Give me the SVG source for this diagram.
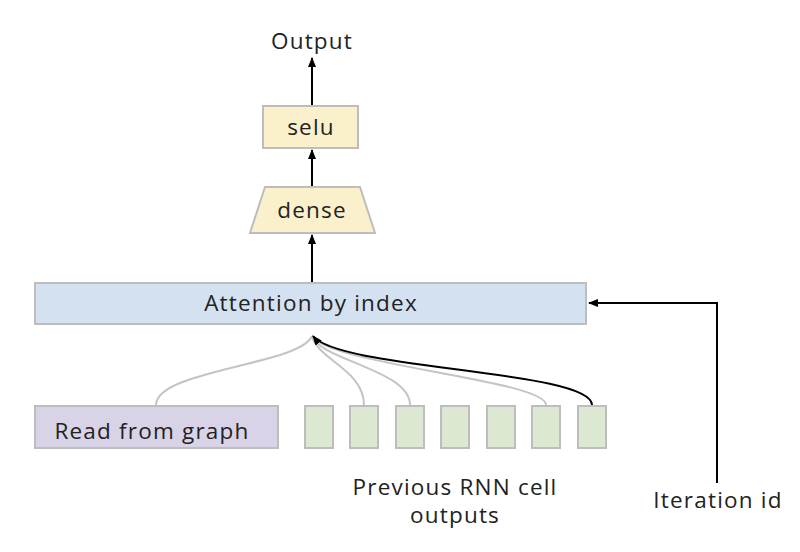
<svg xmlns="http://www.w3.org/2000/svg" width="800" height="552" viewBox="0 0 800 552">
<style>
text{font-family:"Open Sans","Liberation Sans",sans-serif;font-size:22.5px;letter-spacing:1.2px;fill:#222;text-anchor:middle}
.box{stroke:#bdbdbd;stroke-width:2}
.y{fill:#fbf0cc}.b{fill:#d4e1f1}.p{fill:#d9d3e8}.g{fill:#dde8d3}
.gl{fill:none;stroke:#c4c4c4;stroke-width:2}
.bl{fill:none;stroke:#000;stroke-width:2}
</style>
<defs>
<marker id="ah" markerWidth="10" markerHeight="8" refX="9" refY="4" orient="auto" markerUnits="userSpaceOnUse">
<path d="M0,0 L10,4 L0,8 Z" fill="#000"/>
</marker>
</defs>
<rect width="800" height="552" fill="#fff"/>
<g id="connectors">
<path class="gl" d="M156,405 C156,370 300,365 312,336"/>
<path class="gl" d="M364,405 C364,370 318,360 312,336"/>
<path class="gl" d="M410,405 C410,370 320,360 312,336"/>
<path class="gl" d="M546,405 C546,380 330,365 312,336"/>
<path class="bl" d="M592,405 C592,370 340,370 313,336" marker-end="url(#ah)"/>
<line class="bl" x1="312" y1="283" x2="312" y2="235" marker-end="url(#ah)"/>
<line class="bl" x1="312" y1="187" x2="312" y2="150" marker-end="url(#ah)"/>
<line class="bl" x1="312" y1="106" x2="312" y2="58" marker-end="url(#ah)"/>
<path class="bl" d="M717,483 L717,303 L589,303" marker-end="url(#ah)"/>
</g>
<g id="output"><text x="312" y="49">Output</text></g>
<g id="selu"><rect class="box y" x="263" y="106" width="95" height="42"/><text x="311" y="135">selu</text></g>
<g id="dense"><polygon class="box y" points="265,187 360,187 375,233 250,233"/><text x="312" y="218">dense</text></g>
<g id="attention"><rect class="box b" x="35" y="283" width="551" height="41"/><text x="311" y="311">Attention by index</text></g>
<g id="read"><rect class="box p" x="35" y="406" width="243" height="42"/><text x="152" y="439">Read from graph</text></g>
<g id="rnn">
<rect class="box g" x="305" y="406" width="28" height="42"/>
<rect class="box g" x="350" y="406" width="28" height="42"/>
<rect class="box g" x="396" y="406" width="28" height="42"/>
<rect class="box g" x="441" y="406" width="28" height="42"/>
<rect class="box g" x="487" y="406" width="28" height="42"/>
<rect class="box g" x="532" y="406" width="28" height="42"/>
<rect class="box g" x="578" y="406" width="28" height="42"/>
<text x="455" y="495">Previous RNN cell</text>
<text x="455" y="523">outputs</text>
</g>
<g id="iteration"><text x="718" y="508">Iteration id</text></g>
</svg>
